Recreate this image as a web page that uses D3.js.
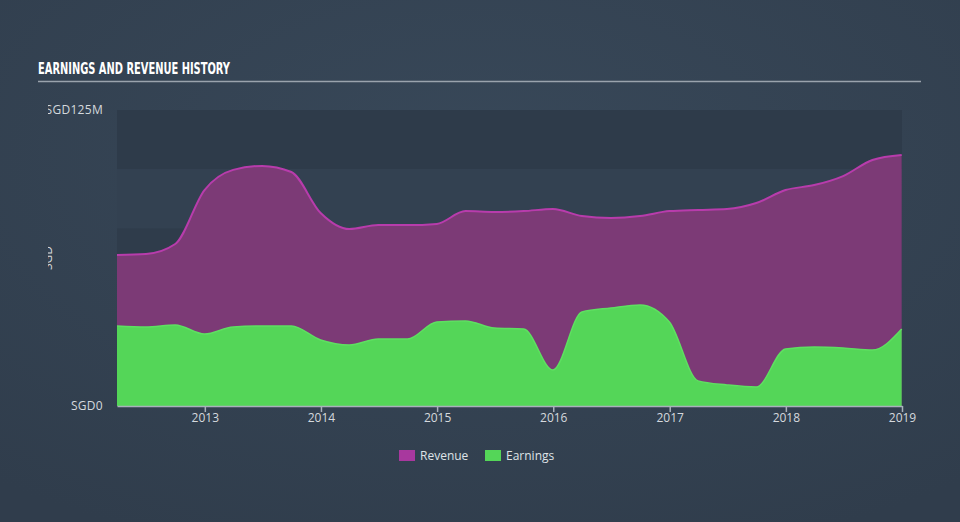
<!DOCTYPE html>
<html>
<head>
<meta charset="utf-8">
<script src="https://cdn.jsdelivr.net/npm/d3@7"></script>
<style>
  html, body { margin: 0; padding: 0; background: #344354; }
  svg { display: block; }
</style>
</head>
<body>
<svg id="chart" width="960" height="522"></svg>
<script>
const dates = ["2012-03-31","2012-06-30","2012-09-30","2012-12-31",
  "2013-03-31","2013-06-30","2013-09-30","2013-12-31",
  "2014-03-31","2014-06-30","2014-09-30","2014-12-31",
  "2015-03-31","2015-06-30","2015-09-30","2015-12-31",
  "2016-03-31","2016-06-30","2016-09-30","2016-12-31",
  "2017-03-31","2017-06-30","2017-09-30","2017-12-31",
  "2018-03-31","2018-06-30","2018-09-30","2018-12-31"];
const revenue = [63.8, 64.2, 68.4, 91.2, 99.7, 101.4, 98.8, 81.5, 74.7, 76.4, 76.4, 76.9,
  82.3, 81.9, 82.3, 83.2, 80.2, 79.4, 80.2, 82.3, 82.8, 83.2, 85.7, 91.2, 93.3, 97.1, 103.9, 106.0];
const earnings = [33.8, 33.4, 34.2, 30.4, 33.4, 33.8, 33.8, 27.9, 25.8, 28.3, 28.3, 35.5,
  35.9, 32.9, 32.5, 15.2, 39.7, 41.4, 42.7, 35.5, 10.6, 8.9, 8.0, 24.1, 24.9, 24.5, 23.6, 32.5];
const yTickValues = [0, 125];
const yTickLabels = ["SGD0", "SGD125M"];
const bandEdges = [125, 100, 75, 50, 25, 0];
const title = "EARNINGS AND REVENUE HISTORY";
const legendItems = [{name: "Revenue", color: "#a8389e"}, {name: "Earnings", color: "#54d658"}];

(function () {
const svg = d3.select("#chart");
const W = 960, H = 522;
const mLeft = 117, mRight = 902, mTop = 110, mBottom = 406;

const defs = svg.append("defs");
const bg = defs.append("radialGradient").attr("id", "bg").attr("cx", "50%").attr("cy", "30%").attr("r", "80%");
bg.append("stop").attr("offset", "0%").attr("stop-color", "#384859");
bg.append("stop").attr("offset", "100%").attr("stop-color", "#303d4c");
svg.append("rect").attr("width", W).attr("height", H).attr("fill", "url(#bg)");

const parse = d3.timeParse("%Y-%m-%d");
const data = dates.map((d, i) => ({date: parse(d), rev: revenue[i], earn: earnings[i]}));

const x = d3.scaleTime().domain([data[0].date, new Date(2019, 0, 1)]).range([mLeft, mRight]);
const y = d3.scaleLinear().domain([0, 125]).range([mBottom, mTop]);

const bandColors = ["#2e3b4a", "#334151", "#2f3c4b", "#334151", "#2f3c4b"];
for (let i = 0; i < bandEdges.length - 1; i++) {
  svg.append("rect")
    .attr("x", mLeft).attr("width", mRight - mLeft)
    .attr("y", y(bandEdges[i])).attr("height", y(bandEdges[i + 1]) - y(bandEdges[i]))
    .attr("fill", bandColors[i]);
}

svg.append("text").attr("x", 38).attr("y", 74).text(title)
  .attr("fill", "#ffffff").attr("font-family", "DejaVu Sans Condensed, DejaVu Sans")
  .attr("font-weight", "bold").attr("font-size", 15).attr("textLength", 192)
  .attr("lengthAdjust", "spacingAndGlyphs");
svg.append("line").attr("x1", 38).attr("x2", 921).attr("y1", 81.5).attr("y2", 81.5)
  .attr("stroke", "#9aa3ad").attr("stroke-width", 1.5);

const curve = d3.curveMonotoneX;
const revArea = d3.area().x(d => x(d.date)).y0(y(0)).y1(d => y(d.rev)).curve(curve);
const revLine = d3.line().x(d => x(d.date)).y(d => y(d.rev)).curve(curve);
const earnArea = d3.area().x(d => x(d.date)).y0(y(0)).y1(d => y(d.earn)).curve(curve);
const earnLine = d3.line().x(d => x(d.date)).y(d => y(d.earn)).curve(curve);

svg.append("path").datum(data).attr("d", revArea).attr("fill", "#7c3a76");
svg.append("path").datum(data).attr("d", revLine).attr("fill", "none").attr("stroke", "#b83cac").attr("stroke-width", 2);
svg.append("path").datum(data).attr("d", earnArea).attr("fill", "#54d658");
svg.append("path").datum(data).attr("d", earnLine).attr("fill", "none").attr("stroke", "#5ee061").attr("stroke-width", 1.5);

const xAxis = d3.axisBottom(x).ticks(d3.timeYear.every(1)).tickFormat(d3.timeFormat("%Y")).tickSize(6).tickSizeOuter(0);
const gx = svg.append("g").attr("transform", `translate(0,${mBottom})`).call(xAxis);
gx.select(".domain").attr("stroke", "#a9b1bb").attr("stroke-width", 1.5);
gx.selectAll(".tick line").attr("stroke", "#a9b1bb").attr("stroke-width", 1.5);
gx.selectAll(".tick text").attr("fill", "#d5d9de").attr("font-family", "Open Sans, sans-serif").attr("font-size", 12).attr("dy", "0.55em");

defs.append("clipPath").attr("id", "yclip").append("rect").attr("x", 48).attr("y", 0).attr("width", 80).attr("height", H);
const gy = svg.append("g").attr("clip-path", "url(#yclip)");
gy.selectAll("text.ylab").data(yTickValues).join("text").attr("class", "ylab")
  .attr("x", 103).attr("y", d => y(d) + 4).attr("text-anchor", "end")
  .attr("fill", "#d5d9de").attr("font-family", "Open Sans, sans-serif").attr("font-size", 12)
  .attr("letter-spacing", 0.3)
  .text((d, i) => yTickLabels[i]);
gy.append("text").attr("transform", `translate(52,${y(62.5)}) rotate(-90)`)
  .attr("text-anchor", "middle").attr("fill", "#d5d9de")
  .attr("font-family", "Open Sans, sans-serif").attr("font-size", 12).text("SGD");

let lx = 399;
legendItems.forEach((it) => {
  const gI = svg.append("g").attr("transform", `translate(${lx},450)`);
  gI.append("rect").attr("width", 16).attr("height", 11).attr("fill", it.color);
  gI.append("text").attr("x", 21).attr("y", 10).text(it.name)
    .attr("fill", "#dfe3e7").attr("font-family", "Open Sans, sans-serif").attr("font-size", 12);
  lx += 86;
});
})();
</script>
</body>
</html>
